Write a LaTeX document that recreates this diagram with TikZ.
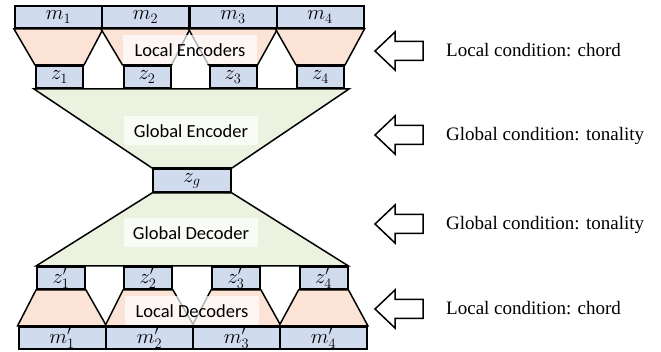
\documentclass[tikz,border=0pt]{standalone}
\usepackage{fontspec}
\setmainfont{Liberation Serif}
\newfontfamily\labfont{Carlito}
\usetikzlibrary{backgrounds}
\definecolor{boxblue}{RGB}{208,219,238}
\definecolor{peach}{RGB}{251,228,213}
\definecolor{palegreen}{RGB}{235,242,224}
\begin{document}
\begin{tikzpicture}[x=1pt,y=-1pt,
  vec/.style={draw=black,line width=2pt,fill=boxblue,inner sep=0pt,minimum height=22pt,font=\fontsize{19.5}{20}\selectfont},
  wide/.style={vec,minimum width=87pt},
  narrow/.style={vec,minimum width=47pt},
  localnet/.style={fill=peach,draw=black,line width=1.5pt,line join=miter},
  globalnet/.style={fill=palegreen,draw=black,line width=1.5pt,line join=miter},
  lab/.style={fill=white,fill opacity=0.7,text opacity=1,font=\labfont\fontsize{18.5}{20}\selectfont,minimum width=134pt,minimum height=29pt,inner sep=0pt},
  cond/.style={anchor=base west,font=\fontsize{19}{20}\selectfont,inner sep=0pt},
  blockarrow/.style={draw=black,line width=1.5pt,fill=white,line join=miter}]
\useasboundingbox (0,0) rectangle (661,352);
% input segments
\node[wide] (m1) at (58.5,17) {$m_1$};
\node[wide] (m2) at (145.5,17) {$m_2$};
\node[wide] (m3) at (233,17) {$m_3$};
\node[wide] (m4) at (320,17) {$m_4$};
% local latents
\node[narrow] (z1) at (59.5,77) {$z_1$};
\node[narrow] (z2) at (147,77) {$z_2$};
\node[narrow] (z3) at (233,77) {$z_3$};
\node[narrow] (z4) at (320.5,77) {$z_4$};
% global latent
\node[vec,minimum width=78pt,minimum height=23pt] (zg) at (192,180.5) {$z_g$};
% decoded local latents
\node[narrow,minimum width=48pt] (y1) at (61,278) {$z'_1$};
\node[narrow,minimum width=48pt] (y2) at (148,278) {$z'_2$};
\node[narrow,minimum width=48pt] (y3) at (236,278) {$z'_3$};
\node[narrow,minimum width=48pt] (y4) at (323.5,278) {$z'_4$};
% outputs
\node[wide] (n1) at (62,338) {$m'_1$};
\node[wide] (n2) at (149.5,338) {$m'_2$};
\node[wide] (n3) at (236.5,338) {$m'_3$};
\node[wide] (n4) at (323.5,338) {$m'_4$};
\begin{scope}[on background layer]
  \foreach \i in {1,...,4}{
    \filldraw[localnet] (m\i.south west) -- (m\i.south east) -- (z\i.north east) -- (z\i.north west) -- cycle;
    \filldraw[localnet] (y\i.south west) -- (y\i.south east) -- (n\i.north east) -- (n\i.north west) -- cycle;
  }
  \filldraw[globalnet] ([xshift=-1pt]z1.south west) -- ([xshift=4pt]z4.south east) -- (zg.north east) -- (zg.north west) -- cycle;
  \filldraw[globalnet] (zg.south west) -- (zg.south east) -- (y4.north east) -- (y1.north west) -- cycle;
\end{scope}
% labels
\node[lab] (le) at (190,50) {Local Encoders};
\node[lab] (ge) at (191,131) {Global Encoder};
\node[lab] (gd) at (191,233) {Global Decoder};
\node[lab] (ld) at (192,311) {Local Decoders};
% conditions
\foreach \i/\y/\t in {1/51/Local condition: chord, 2/135/Global condition: tonality, 3/224/Global condition: tonality, 4/309/Local condition: chord}{
  \coordinate (tip\i) at (375,\y);
  \draw[blockarrow] (tip\i) -- ++(20,-19) -- ++(0,9.5) -- ++(28,0) -- ++(0,19) -- ++(-28,0) -- ++(0,9.5) -- cycle;
  \node[cond] (c\i) at (446,\y+6) {\t};
}
\end{tikzpicture}
\end{document}
